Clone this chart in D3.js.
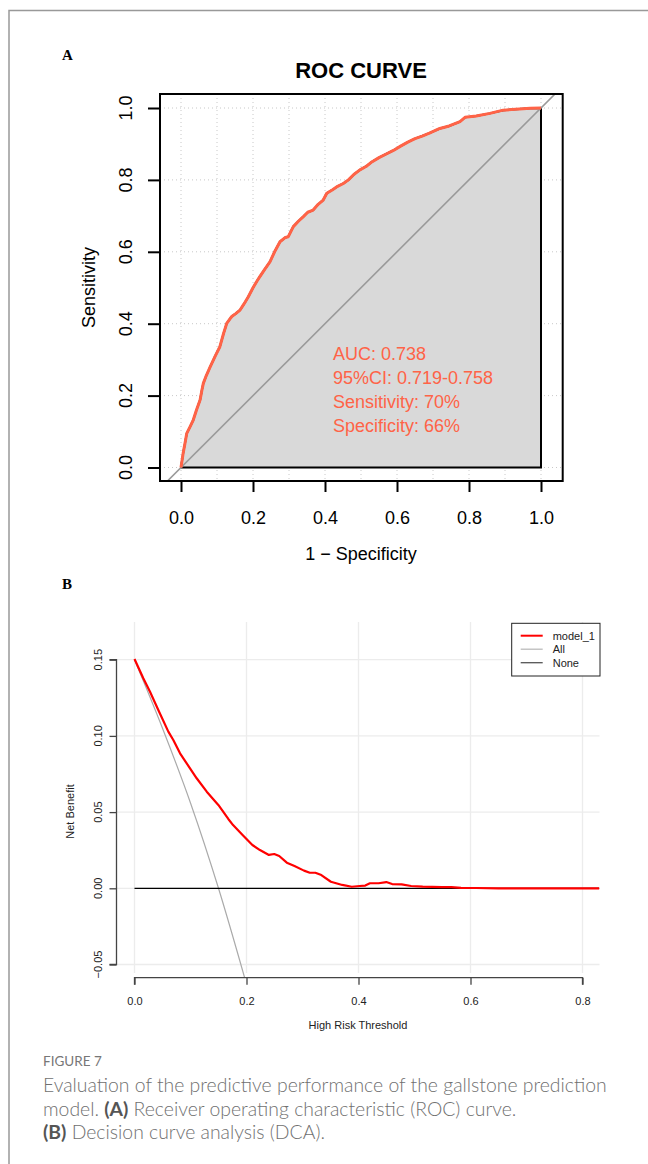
<!DOCTYPE html>
<html><head><meta charset="utf-8">
<script src="https://cdn.jsdelivr.net/npm/d3@7"></script>
<style>body{margin:0;background:#fff}svg{display:block}</style>
</head><body>
<svg id="c" width="648" height="1164"></svg>
<script>
// ---------- ROC data ----------
const rocFpr = [0,0.006,0.011,0.016,0.025,0.034,0.043,0.053,0.058,0.062,0.070,0.081,0.095,0.108,0.118,0.127,0.135,0.141,0.152,0.164,0.175,0.187,0.200,0.212,0.219,0.233,0.247,0.260,0.275,0.290,0.298,0.312,0.326,0.340,0.352,0.367,0.381,0.395,0.405,0.420,0.435,0.451,0.465,0.480,0.497,0.515,0.530,0.550,0.570,0.590,0.610,0.630,0.650,0.670,0.690,0.719,0.745,0.775,0.789,0.820,0.858,0.895,0.940,0.970,1.0];
const rocTpr = [0,0.040,0.067,0.095,0.113,0.132,0.160,0.188,0.215,0.234,0.255,0.280,0.310,0.336,0.372,0.401,0.412,0.420,0.428,0.438,0.455,0.475,0.500,0.520,0.531,0.552,0.572,0.600,0.628,0.640,0.642,0.670,0.685,0.698,0.710,0.716,0.732,0.744,0.763,0.772,0.782,0.790,0.800,0.815,0.828,0.838,0.850,0.862,0.872,0.882,0.894,0.905,0.915,0.922,0.930,0.943,0.950,0.962,0.974,0.978,0.985,0.994,0.997,0.999,1.0];
const rocTicks = [0,0.2,0.4,0.6,0.8,1.0];
const rocGridX = [0,0.1,0.2,0.3,0.4,0.5,0.6,0.7,0.8,0.9,1.0];
const rocGridY = [0,0.2,0.4,0.6,0.8,1.0];
const rocLabels = ["AUC: 0.738","95%CI: 0.719-0.758","Sensitivity: 70%","Specificity: 66%"];

// ---------- DCA data ----------
const dcaThr = [0,0.0157,0.0277,0.0425,0.0604,0.0693,0.0813,0.0932,0.111,0.129,0.1497,0.1675,0.176,0.193,0.2105,0.224,0.240,0.2495,0.2584,0.272,0.2857,0.3027,0.313,0.323,0.3336,0.3507,0.371,0.388,0.402,0.412,0.4204,0.436,0.4496,0.46,0.477,0.494,0.5146,0.5488,0.566,0.583,0.610,0.65,0.83];
const dcaModel = [0.1505,0.1378,0.129,0.117,0.1028,0.0973,0.0886,0.082,0.0722,0.0634,0.0547,0.0455,0.0415,0.035,0.0284,0.0251,0.0219,0.0225,0.0212,0.0168,0.0146,0.0116,0.0102,0.0102,0.0087,0.0043,0.0022,0.001,0.0015,0.0018,0.0033,0.0033,0.0041,0.0028,0.0026,0.0015,0.0011,0.0008,0.0008,0.0003,0.0002,0,0];
const allThr = [0,0.05,0.10,0.15,0.20];
const allNB = [0.150,0.105,0.056,0.000,-0.063];
const noneThr = [0,0.83];
const noneNB = [0,0];
const dcaXTicks = [0,0.2,0.4,0.6,0.8];
const dcaYTicks = [-0.05,0,0.05,0.10,0.15];
const legendNames = ["model_1","All","None"];

const svg = d3.select("#c");
const SANS = "'Liberation Sans', Arial, Helvetica, sans-serif";
const tomato = "#ff6347";

// page frame
svg.append("path").attr("d","M9,1164 V10.5 H648").attr("fill","none").attr("stroke","#999").attr("stroke-width",1.5);

// panel letters
svg.append("text").attr("x",62).attr("y",60).text("A").attr("font-family","'Liberation Serif', serif").attr("font-weight","bold").attr("font-size",15);
svg.append("text").attr("x",62).attr("y",589).text("B").attr("font-family","'Liberation Serif', serif").attr("font-weight","bold").attr("font-size",15);

// ================= ROC =================
const rx = d3.scaleLinear().domain([0,1]).range([181,541]);
const ry = d3.scaleLinear().domain([0,1]).range([467.5,108]);
const fr = {l:160, r:562.7, t:94, b:481};

const roc = svg.append("g");
roc.append("clipPath").attr("id","rocclip").append("rect").attr("x",fr.l).attr("y",fr.t).attr("width",fr.r-fr.l).attr("height",fr.b-fr.t);

// grid
roc.append("g").selectAll("line").data(rocGridX).join("line")
  .attr("x1",d=>rx(d)).attr("x2",d=>rx(d)).attr("y1",fr.t).attr("y2",fr.b)
  .attr("stroke","#c8c8c8").attr("stroke-width",1).attr("stroke-dasharray","1,3");
roc.append("g").selectAll("line").data(rocGridY).join("line")
  .attr("y1",d=>ry(d)).attr("y2",d=>ry(d)).attr("x1",fr.l).attr("x2",fr.r)
  .attr("stroke","#c8c8c8").attr("stroke-width",1).attr("stroke-dasharray","1,3");

// polygon under curve
const pts = rocFpr.map((f,i)=>[f,rocTpr[i]]);
const poly = pts.concat([[1,0],[0,0]]);
roc.append("path").attr("d", d3.line().x(d=>rx(d[0])).y(d=>ry(d[1]))(poly)+"Z")
  .attr("fill","#d9d9d9").attr("stroke","#000").attr("stroke-width",2);

// diagonal
roc.append("line").attr("clip-path","url(#rocclip)")
  .attr("x1",rx(-0.2)).attr("y1",ry(-0.2)).attr("x2",rx(1.2)).attr("y2",ry(1.2))
  .attr("stroke","#9a9a9a").attr("stroke-width",1.6);

// ROC curve
roc.append("path").attr("d", d3.line().x(d=>rx(d[0])).y(d=>ry(d[1]))(pts))
  .attr("fill","none").attr("stroke",tomato).attr("stroke-width",3).attr("stroke-linejoin","round");

// annotation
roc.append("g").selectAll("text").data(rocLabels).join("text")
  .attr("x",333).attr("y",(d,i)=>360+i*24).text(d=>d)
  .attr("fill",tomato).attr("font-family",SANS).attr("font-size",18);

// frame
roc.append("rect").attr("x",fr.l).attr("y",fr.t).attr("width",fr.r-fr.l).attr("height",fr.b-fr.t)
  .attr("fill","none").attr("stroke","#000").attr("stroke-width",2);

// axes
const rxa = roc.append("g").attr("transform",`translate(0,${fr.b})`)
  .call(d3.axisBottom(rx).tickValues(rocTicks).tickSize(11).tickPadding(19).tickFormat(d3.format(".1f")));
rxa.select(".domain").remove();
rxa.selectAll("line").attr("stroke","#000").attr("stroke-width",2);
rxa.selectAll("text").attr("font-family",SANS).attr("font-size",18).attr("fill","#000");

const rya = roc.append("g").attr("transform",`translate(${fr.l},0)`)
  .call(d3.axisLeft(ry).tickValues(rocTicks).tickSize(12).tickFormat(""));
rya.select(".domain").remove();
rya.selectAll("line").attr("stroke","#000").attr("stroke-width",2);
roc.append("g").selectAll("text").data(rocTicks).join("text")
  .attr("transform",d=>`translate(131.5,${ry(d)}) rotate(-90)`)
  .attr("text-anchor","middle").text(d3.format(".1f"))
  .attr("font-family",SANS).attr("font-size",18);

roc.append("text").attr("x",361).attr("y",78).attr("text-anchor","middle").text("ROC CURVE")
  .attr("font-family",SANS).attr("font-size",22).attr("font-weight","bold");
roc.append("text").attr("x",361).attr("y",560).attr("text-anchor","middle").text("1 \u2212 Specificity")
  .attr("font-family",SANS).attr("font-size",18);
roc.append("text").attr("transform",`translate(95,${(fr.t+fr.b)/2}) rotate(-90)`).attr("text-anchor","middle").text("Sensitivity")
  .attr("font-family",SANS).attr("font-size",18);

// ================= DCA =================
const dx = d3.scaleLinear().domain([0,1]).range([134.5,694.5]);
const dy = d3.scaleLinear().domain([0,0.05]).range([888.3,812.1]);
const pr = {l:116.5, r:599.5, t:622, b:977.7};
const dca = svg.append("g");
dca.append("clipPath").attr("id","dcaclip").append("rect").attr("x",pr.l).attr("y",pr.t).attr("width",pr.r-pr.l).attr("height",pr.b-pr.t);

dca.append("g").selectAll("line").data(dcaXTicks).join("line")
  .attr("x1",d=>dx(d)).attr("x2",d=>dx(d)).attr("y1",pr.t).attr("y2",973)
  .attr("stroke","#ececec").attr("stroke-width",1.3);
dca.append("g").selectAll("line").data(dcaYTicks).join("line")
  .attr("y1",d=>dy(d)).attr("y2",d=>dy(d)).attr("x1",pr.l).attr("x2",pr.r)
  .attr("stroke","#ececec").attr("stroke-width",1.3);

const dline = d3.line().x(d=>dx(d[0])).y(d=>dy(d[1]));
dca.append("path").attr("clip-path","url(#dcaclip)")
  .attr("d",d3.line().curve(d3.curveMonotoneX).x(d=>dx(d[0])).y(d=>dy(d[1]))(allThr.map((t,i)=>[t,allNB[i]])))
  .attr("fill","none").attr("stroke","#aaaaaa").attr("stroke-width",1.2);
dca.append("path").attr("clip-path","url(#dcaclip)").attr("d",dline(noneThr.map((t,i)=>[t,noneNB[i]])))
  .attr("fill","none").attr("stroke","#000").attr("stroke-width",1.2);
dca.append("path").attr("clip-path","url(#dcaclip)").attr("d",dline(dcaThr.map((t,i)=>[t,dcaModel[i]])))
  .attr("fill","none").attr("stroke","#ff0000").attr("stroke-width",2.2).attr("stroke-linejoin","round");

// axes
const dxa = dca.append("g").attr("transform",`translate(0,${pr.b})`)
  .call(d3.axisBottom(dx).tickValues(dcaXTicks).tickSize(7).tickPadding(13).tickFormat(d3.format(".1f")));
dxa.select(".domain").attr("stroke","#444").attr("stroke-width",1.3).attr("d",`M${dx(0)},7V0H${dx(0.8)}V7`);
dxa.selectAll("line").attr("stroke","#444").attr("stroke-width",1.3);
dxa.selectAll("text").attr("font-family",SANS).attr("font-size",11).attr("fill","#222");

const dya = dca.append("g").attr("transform",`translate(${pr.l},0)`)
  .call(d3.axisLeft(dy).tickValues(dcaYTicks).tickSize(7).tickFormat(""));
dya.select(".domain").attr("stroke","#444").attr("stroke-width",1.3).attr("d",`M-7,${dy(-0.05)}H0V${dy(0.15)}H-7`);
dya.selectAll("line").attr("stroke","#444").attr("stroke-width",1.3);
dca.append("g").selectAll("text").data(dcaYTicks).join("text")
  .attr("transform",d=>`translate(101.5,${dy(d)}) rotate(-90)`).attr("text-anchor","middle")
  .text(d3.format(".2f")).attr("font-family",SANS).attr("font-size",11).attr("fill","#222");

dca.append("text").attr("x",358).attr("y",1029).attr("text-anchor","middle").text("High Risk Threshold")
  .attr("font-family",SANS).attr("font-size",11).attr("fill","#222");
dca.append("text").attr("transform",`translate(74,811.5) rotate(-90)`).attr("text-anchor","middle").text("Net Benefit")
  .attr("font-family",SANS).attr("font-size",11).attr("fill","#222");

// legend
const lg = dca.append("g");
lg.append("rect").attr("x",511.7).attr("y",623.3).attr("width",88.3).attr("height",52.7).attr("fill","#fff").attr("stroke","#222").attr("stroke-width",1);
const lcol = ["#ff0000","#bbbbbb","#555555"];
lg.selectAll("line").data(legendNames).join("line")
  .attr("x1",520.7).attr("x2",542.7).attr("y1",(d,i)=>635.7+i*13.5).attr("y2",(d,i)=>635.7+i*13.5)
  .attr("stroke",(d,i)=>lcol[i]).attr("stroke-width",(d,i)=>i==0?2:1.3);
lg.selectAll("text").data(legendNames).join("text")
  .attr("x",552.7).attr("y",(d,i)=>635.7+i*13.5+4).text(d=>d)
  .attr("font-family",SANS).attr("font-size",11).attr("fill","#222");

// ================= caption =================
const CAP = "Lato, 'Open Sans', sans-serif";
svg.append("text").attr("x",43).attr("y",1066).text("FIGURE 7")
  .attr("font-family",CAP).attr("font-size",13.5).attr("fill","#777");
const capLines = [
  [["Evaluation of the predictive performance of the gallstone prediction",false]],
  [["model. ",false],["(A)",true],[" Receiver operating characteristic (ROC) curve.",false]],
  [["(B)",true],[" Decision curve analysis (DCA).",false]]
];
const capG = svg.append("g");
capLines.forEach((ln,i)=>{
  const t = capG.append("text").attr("x",43).attr("y",1092+i*23.5)
    .attr("font-family",CAP).attr("font-size",18).attr("fill","#707070");
  ln.forEach(([s,b])=>t.append("tspan").text(s).attr("font-weight",b?"bold":"300").attr("fill",b?"#555":"#707070"));
});
const w0 = capG.select("text").node().getComputedTextLength();
const fs = 18*564/w0;
capG.selectAll("text").attr("font-size",fs);
</script>
</body></html>
